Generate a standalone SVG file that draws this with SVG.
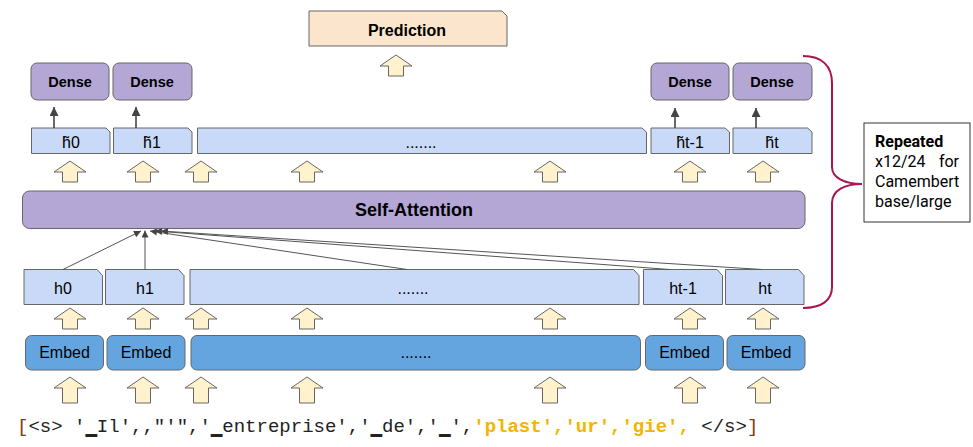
<svg xmlns="http://www.w3.org/2000/svg" width="973" height="447" viewBox="0 0 973 447">
<style>
.box{stroke:#666;stroke-width:1}
.peach{fill:#fce5cd}
.purple{fill:#b4a7d6}
.light{fill:#c9daf8}
.blue{fill:#65a5df}
.barrow{fill:#fff2cc;stroke:#666;stroke-width:1}
.lbl{font-family:"Liberation Sans",Arial,sans-serif;font-size:16px;fill:#000;text-anchor:middle}
.bold{font-weight:bold}
.conn{stroke:#555;stroke-width:1;fill:none}
.dconn{stroke:#444;stroke-width:1.6;fill:none}
.note{font-family:Roboto,"Liberation Sans",sans-serif;font-size:16px;fill:#000}
.seq{font-family:"Liberation Mono","Courier New",monospace;font-size:19px;fill:#222}
</style>
<defs>
<marker id="ah" viewBox="0 0 10 10" refX="10" refY="5" markerWidth="8" markerHeight="7" markerUnits="userSpaceOnUse" orient="auto">
<path d="M0,0 L10,5 L0,10 Z" fill="#444"/>
</marker>
<marker id="ah2" viewBox="0 0 10 10" refX="10" refY="5" markerWidth="11" markerHeight="9" markerUnits="userSpaceOnUse" orient="auto">
<path d="M0,0 L10,5 L0,10 Z" fill="#444"/>
</marker>
<path id="arrS" class="barrow" d="M0,0 L16,11 L7.5,11 L7.5,21 L-7.5,21 L-7.5,11 L-16,11 Z"/>
<path id="arrT" class="barrow" d="M0,0 L16,11 L7.5,11 L7.5,26 L-7.5,26 L-7.5,11 L-16,11 Z"/>
</defs>
<rect width="973" height="447" fill="#fff"/>

<g id="prediction">
<path class="box peach" d="M309,11 H502 L507,16 V46 H309 Z"/>
<text class="lbl bold" x="407" y="36">Prediction</text>
</g>
<g id="arrow-prediction"><use href="#arrS" x="396" y="55"/></g>

<g id="dense0"><rect class="box purple" x="31" y="63" width="78" height="37" rx="6"/><text class="lbl bold" x="70" y="87" font-size="14.5" style="font-size:14.5px">Dense</text></g>
<g id="dense1"><rect class="box purple" x="113" y="63" width="79" height="37" rx="6"/><text class="lbl bold" x="152" y="87" style="font-size:14.5px">Dense</text></g>
<g id="dense3"><rect class="box purple" x="651" y="63" width="78" height="37" rx="6"/><text class="lbl bold" x="690" y="87" style="font-size:14.5px">Dense</text></g>
<g id="dense4"><rect class="box purple" x="733" y="63" width="79" height="37" rx="6"/><text class="lbl bold" x="772" y="87" style="font-size:14.5px">Dense</text></g>

<g id="htilde0"><path class="box light" d="M31.5,128 H106 L110,132 V153.5 H31.5 Z"/><text class="lbl" x="71" y="148">h̃0</text></g>
<g id="htilde1"><path class="box light" d="M113.5,128 H188 L192,132 V153.5 H113.5 Z"/><text class="lbl" x="152" y="148">h̃1</text></g>
<g id="htilde-mid"><path class="box light" d="M197.5,128 H642 L646.5,132 V153.5 H197.5 Z"/><text class="lbl" x="421" y="148">.......</text></g>
<g id="htilde-t1"><path class="box light" d="M651,128 H725 L729.5,132 V153.5 H651 Z"/><text class="lbl" x="690" y="148">h̃t-1</text></g>
<g id="htilde-t"><path class="box light" d="M733,128 H807.5 L812,132 V153.5 H733 Z"/><text class="lbl" x="772" y="148">h̃t</text></g>

<g id="arrows-row1">
<use href="#arrS" x="70" y="161"/><use href="#arrS" x="143" y="161"/><use href="#arrS" x="201" y="161"/><use href="#arrS" x="307" y="161"/><use href="#arrS" x="550" y="161"/><use href="#arrS" x="690" y="161"/><use href="#arrS" x="763" y="161"/>
</g>

<g id="self-attention">
<rect class="box purple" x="22.5" y="191" width="782.5" height="37.5" rx="7"/>
<text class="lbl bold" x="414" y="216" style="font-size:18px">Self-Attention</text>
</g>

<g id="h0"><path class="box light" d="M24,269.5 H97 L102.5,275.5 V304.5 H24 Z"/><text class="lbl" x="63" y="294">h0</text></g>
<g id="h1"><path class="box light" d="M105.5,269.5 H178.5 L184,275.5 V304.5 H105.5 Z"/><text class="lbl" x="145" y="294">h1</text></g>
<g id="h-mid"><path class="box light" d="M190,269.5 H633.5 L639,275.5 V304.5 H190 Z"/><text class="lbl" x="413" y="294">.......</text></g>
<g id="h-t1"><path class="box light" d="M643.5,269.5 H717 L722.5,275.5 V304.5 H643.5 Z"/><text class="lbl" x="683" y="294">ht-1</text></g>
<g id="h-t"><path class="box light" d="M725.5,269.5 H798.5 L804,275.5 V304.5 H725.5 Z"/><text class="lbl" x="765" y="294">ht</text></g>

<g id="arrows-row2">
<use href="#arrS" x="70" y="308"/><use href="#arrS" x="143" y="308"/><use href="#arrS" x="201" y="308"/><use href="#arrS" x="307" y="308"/><use href="#arrS" x="550" y="308"/><use href="#arrS" x="690" y="308"/><use href="#arrS" x="763" y="308"/>
</g>

<g id="embed0"><rect class="box blue" x="25.5" y="335.5" width="78" height="34.5" rx="6"/><text class="lbl" x="64.5" y="358">Embed</text></g>
<g id="embed1"><rect class="box blue" x="107" y="335.5" width="78" height="34.5" rx="6"/><text class="lbl" x="146" y="358">Embed</text></g>
<g id="embed-mid"><rect class="box blue" x="191" y="335.5" width="449.5" height="34.5" rx="6"/><text class="lbl" x="416" y="358">.......</text></g>
<g id="embed-t1"><rect class="box blue" x="645.5" y="335.5" width="78" height="34.5" rx="6"/><text class="lbl" x="684.5" y="358">Embed</text></g>
<g id="embed-t"><rect class="box blue" x="727" y="335.5" width="78" height="34.5" rx="6"/><text class="lbl" x="766" y="358">Embed</text></g>

<g id="arrows-row3">
<use href="#arrT" x="70" y="377"/><use href="#arrT" x="143" y="377"/><use href="#arrT" x="201" y="377"/><use href="#arrT" x="307" y="377"/><use href="#arrT" x="550" y="377"/><use href="#arrT" x="690" y="377"/><use href="#arrT" x="763" y="377"/>
</g>

<g id="connectors">
<line class="conn" x1="63" y1="269.5" x2="141" y2="231" marker-end="url(#ah)"/>
<line class="conn" x1="145" y1="269.5" x2="145" y2="230.5" marker-end="url(#ah)"/>
<line class="conn" x1="407" y1="269.5" x2="150" y2="231" marker-end="url(#ah)"/>
<line class="conn" x1="670" y1="269.5" x2="155" y2="231" marker-end="url(#ah)"/>
<line class="conn" x1="762" y1="269.5" x2="161" y2="231" marker-end="url(#ah)"/>
<line class="dconn" x1="54" y1="128" x2="54" y2="107" marker-end="url(#ah2)"/>
<line class="dconn" x1="136" y1="128" x2="136" y2="107" marker-end="url(#ah2)"/>
<line class="dconn" x1="675" y1="128" x2="675" y2="108" marker-end="url(#ah2)"/>
<line class="dconn" x1="756" y1="128" x2="756" y2="108" marker-end="url(#ah2)"/>
</g>

<g id="bracket">
<path d="M803,56 C822,56 832,66 832,83 L832,167 C832,178 845,184 862,184 C845,184 832,190 832,203 L832,287 C832,300 822,308 803,308" fill="none" stroke="#a8154f" stroke-width="2"/>
</g>

<g id="repeated-note">
<rect x="864" y="123" width="106" height="99" fill="#fff" stroke="#333" stroke-width="1"/>
<text class="note" x="875" y="147" font-weight="bold">Repeated</text>
<text class="note" x="875" y="167">x12/24</text>
<text class="note" x="959" y="167" text-anchor="end">for</text>
<text class="note" x="875" y="187">Camembert</text>
<text class="note" x="875" y="207">base/large</text>
</g>

<g id="sequence">
<text class="seq" x="17" y="432" xml:space="preserve"><tspan fill="#7f3b12">[</tspan>&lt;s&gt; '▁Il',,"'",'▁entreprise','▁de','▁',<tspan fill="#f4b400" font-weight="bold">'plast','ur','gie',</tspan> &lt;/s&gt;<tspan fill="#7f3b12">]</tspan></text>
</g>
</svg>
